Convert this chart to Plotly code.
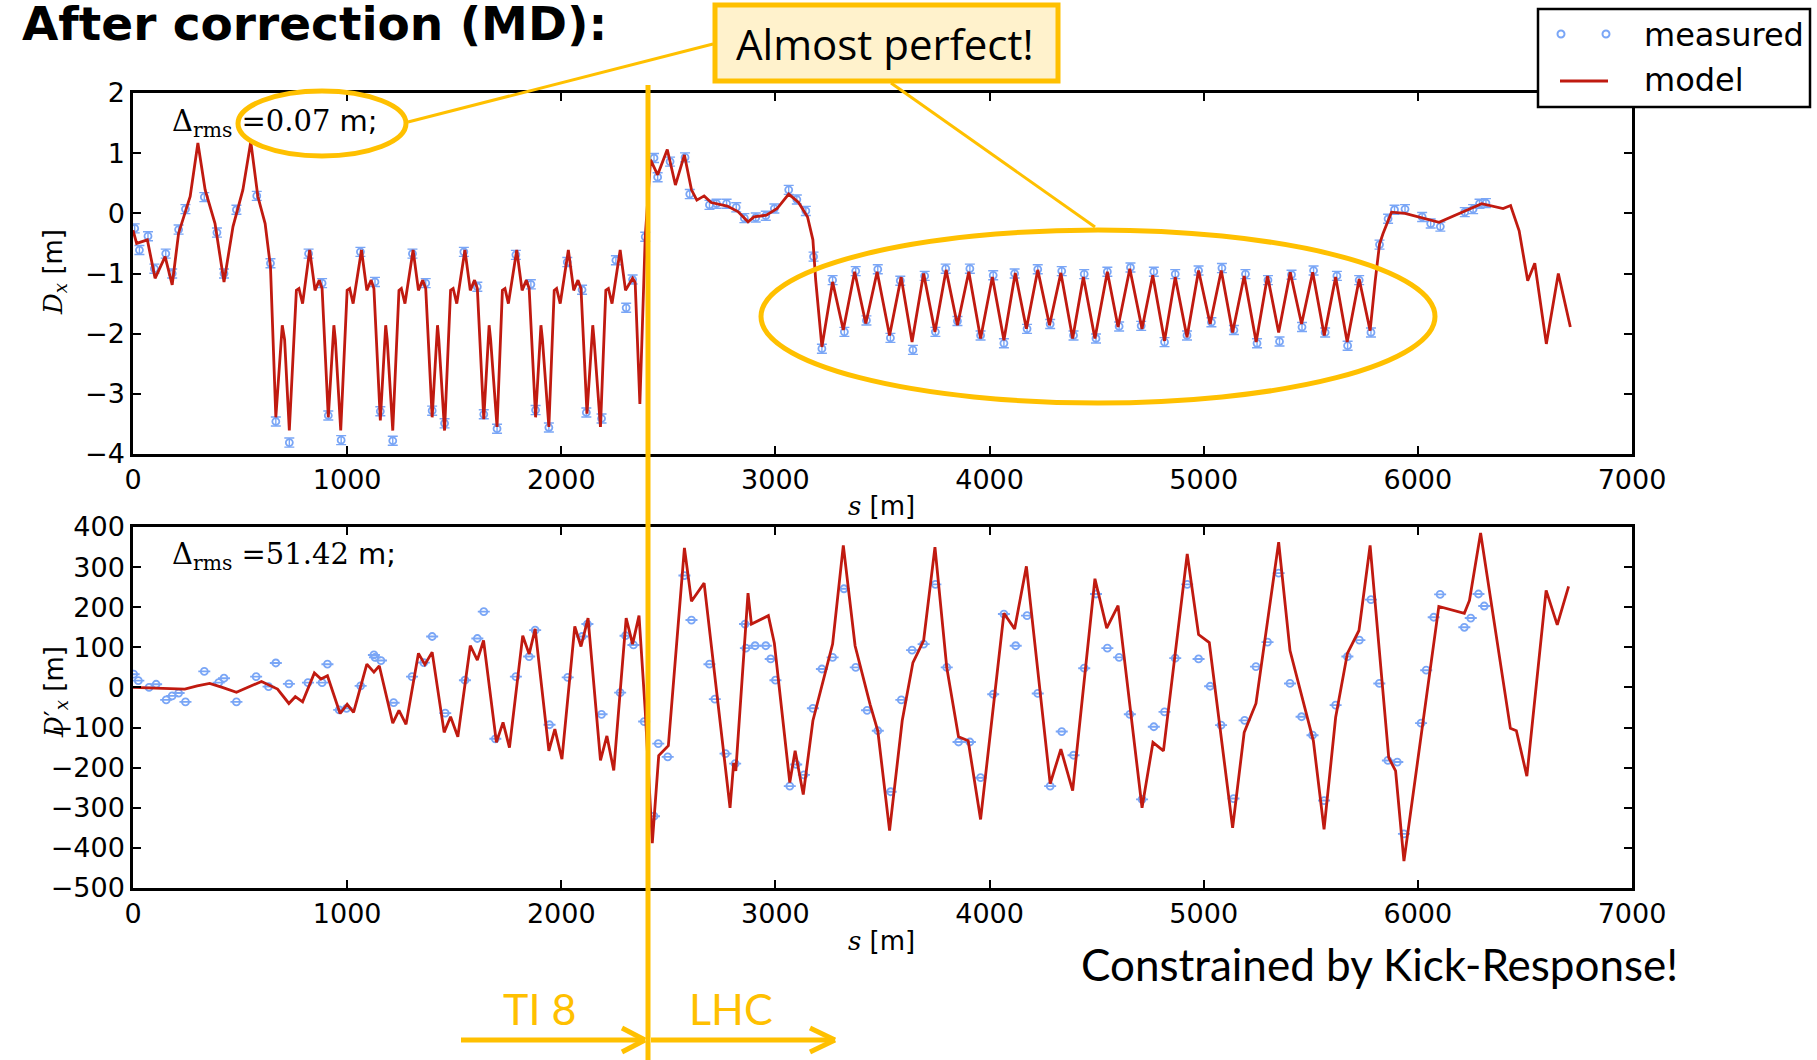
import plotly.graph_objects as go

# ---------------- data ----------------
top_model_s = [0, 17, 67, 103, 150, 183, 213, 267, 303, 337, 383, 425, 467, 513, 550, 583, 617, 642,
               667, 697, 708, 730, 763, 775, 792, 825,
               850, 870, 883, 912, 938, 945, 970, 1000, 1012, 1028, 1067,
               1092, 1112, 1125, 1155, 1180, 1187, 1213, 1242, 1253, 1270, 1308,
               1333, 1353, 1367, 1397, 1422, 1428, 1455, 1483, 1495, 1512, 1550,
               1575, 1595, 1608, 1638, 1663, 1670, 1700, 1725, 1737, 1753, 1792,
               1817, 1837, 1850, 1880, 1905, 1912, 1942, 1967, 1978, 1995, 2033,
               2058, 2078, 2092, 2120, 2147, 2153, 2183, 2208, 2220, 2237, 2275,
               2300, 2333, 2345, 2367, 2392,
               2417, 2450, 2495, 2533, 2575, 2608, 2633, 2667, 2700, 2775, 2825, 2872, 2900, 2958,
               3008, 3062, 3108, 3150, 3175, 3188, 3217, 3267, 3317, 3370, 3422, 3475, 3533, 3587,
               3638, 3692, 3745, 3797, 3850, 3903, 3958, 4013, 4067, 4120, 4172, 4225, 4280, 4333,
               4388, 4438, 4492, 4550, 4600, 4655, 4712, 4762, 4817, 4867, 4922, 4976, 5030, 5082,
               5135, 5189, 5245, 5298, 5350, 5404, 5457, 5509, 5563, 5616, 5670, 5726, 5777, 5801,
               5821, 5837, 5877, 5940, 6099, 6298, 6398, 6433, 6473, 6513, 6546, 6600, 6656, 6712]
top_model_d = [-0.28, -0.5, -0.44, -1.08, -0.72, -1.19, -0.33, 0.28, 1.17, 0.39, -0.17, -1.14, -0.22, 0.39, 1.19, 0.28, -0.17, -0.89,
               -3.39, -1.86, -2.1, -3.61, -1.28, -1.25, -1.5, -0.61,
               -1.28, -1.11, -1.25, -3.39, -1.86, -2.1, -3.61, -1.28, -1.25, -1.5, -0.61,
               -1.28, -1.11, -1.25, -3.44, -1.86, -2.1, -3.61, -1.28, -1.25, -1.5, -0.61,
               -1.28, -1.11, -1.25, -3.39, -1.86, -2.1, -3.61, -1.28, -1.25, -1.5, -0.61,
               -1.28, -1.11, -1.25, -3.42, -1.86, -2.1, -3.55, -1.28, -1.25, -1.5, -0.61,
               -1.28, -1.11, -1.25, -3.39, -1.86, -2.1, -3.55, -1.28, -1.25, -1.5, -0.61,
               -1.28, -1.11, -1.25, -3.33, -1.86, -2.1, -3.55, -1.28, -1.25, -1.5, -0.61,
               -1.28, -1.08, -1.15, -3.17, -0.39,
               0.89, 0.64, 1.06, 0.47, 0.97, 0.39, 0.22, 0.29, 0.18, 0.12, 0.03, -0.14, -0.06, -0.03,
               0.08, 0.32, 0.18, -0.06, -0.44, -1.11, -2.22, -1.14, -1.94, -0.97, -1.83, -0.97, -2.03, -1.06,
               -2.14, -1.0, -1.97, -0.94, -1.86, -0.97, -2.08, -1.06, -2.11, -0.99, -1.92, -0.94, -1.86, -0.99,
               -2.08, -1.06, -2.08, -0.97, -1.89, -0.92, -1.92, -1.03, -2.12, -1.06, -2.06, -0.95, -1.84, -0.95,
               -1.98, -1.04, -2.14, -1.04, -1.98, -0.98, -1.84, -0.98, -2.03, -1.06, -2.14, -1.09, -1.95, -1.12,
               -0.51, -0.34, 0.02, 0.0, -0.15, 0.16, 0.08, 0.13, -0.29, -1.12, -0.83, -2.17, -1.0, -1.89]

top_meas_s = [8, 30, 70, 100, 153, 183, 213, 245, 333, 392, 425, 483, 578, 642, 667, 730, 820, 883, 912, 972,
              1062, 1130, 1155, 1213, 1305, 1367, 1397, 1455, 1545, 1608, 1638, 1700, 1788, 1858, 1880, 1942,
              2028, 2097, 2117, 2188, 2255, 2303, 2333, 2392,
              2433, 2450, 2508, 2578, 2600, 2692, 2725, 2772, 2817, 2855, 2908, 2955, 2995, 3062, 3100, 3142,
              3178, 3217, 3267, 3322, 3375, 3425, 3478, 3537, 3583, 3642, 3697, 3747, 3795, 3850, 3908, 3958,
              4017, 4067, 4117, 4175, 4225, 4283, 4337, 4392, 4442, 4497, 4550, 4605, 4658, 4708, 4767, 4817,
              4867, 4922, 4976, 5036, 5085, 5141, 5195, 5249, 5300, 5354, 5410, 5459, 5513, 5567, 5622, 5672,
              5726, 5781, 5821, 5861, 5891, 5940, 6020, 6060, 6105, 6219, 6258, 6288, 6318]
top_meas_d = [-0.25, -0.61, -0.38, -0.92, -0.67, -1.0, -0.27, 0.07, 0.27, -0.32, -1.0, 0.06, 0.29, -0.83, -3.46, -3.81, -0.67, -1.16, -3.36, -3.77,
              -0.64, -1.14, -3.29, -3.78, -0.67, -1.16, -3.28, -3.49, -0.64, -1.22, -3.34, -3.58, -0.69, -1.18, -3.27, -3.56,
              -0.81, -1.27, -3.31, -3.41, -0.78, -1.57, -1.1, -0.39,
              0.92, 0.6, 0.86, 0.93, 0.32, 0.14, 0.16, 0.16, 0.1, -0.08, -0.07, -0.04, 0.08, 0.39, 0.23, 0.04,
              -0.72, -2.25, -1.11, -1.97, -0.96, -1.78, -0.93, -2.07, -1.12, -2.27, -1.04, -1.97, -0.92, -1.79, -0.92, -2.03,
              -1.03, -2.16, -1.0, -1.92, -0.93, -1.84, -0.96, -2.03, -1.01, -2.08, -0.97, -1.88, -0.9, -1.87, -0.97, -2.14,
              -1.01, -2.03, -0.95, -1.81, -0.91, -1.94, -1.01, -2.16, -1.11, -2.13, -1.02, -1.89, -0.95, -1.98, -1.04, -2.2,
              -1.11, -1.98, -0.52, -0.09, 0.06, 0.07, -0.06, -0.17, -0.22, 0.02, 0.07, 0.16, 0.17]

bot_model_s = [0, 242, 300, 358, 417, 483, 600, 675, 728, 758, 792, 847, 878, 908, 967, 1000, 1030, 1092, 1125, 1150,
               1213, 1242, 1275, 1333, 1363, 1397, 1453, 1483, 1517, 1575, 1608, 1637, 1697, 1728, 1758, 1820, 1850,
               1878, 1942, 1970, 2003, 2063, 2092, 2125, 2183, 2213, 2245, 2303, 2333, 2363, 2392, 2425, 2455, 2500,
               2575, 2608, 2667, 2788, 2805, 2815, 2872, 2888, 2967, 2995, 3067, 3092, 3130, 3175, 3267, 3317, 3372,
               3442, 3478, 3533, 3592, 3642, 3692, 3745, 3800, 3855, 3900, 3958, 4067, 4117, 4172, 4283, 4333, 4388,
               4492, 4547, 4600, 4712, 4763, 4812, 4923, 4976, 5026, 5135, 5189, 5244, 5350, 5403, 5512, 5562, 5616,
               5671, 5725, 5777, 5864, 5896, 5935, 6098, 6217, 6241, 6293, 6432, 6460, 6509, 6599, 6651, 6704]
bot_model_dp = [0, -4, 4, 10, 0, -12, 15, -4, -40, -23, -36, 36, 21, 29, -65, -42, -62, 58, 38, 54,
                -89, -57, -92, 85, 57, 88, -112, -73, -123, 104, 68, 117, -137, -87, -150, 129, 83,
                146, -158, -104, -179, 152, 102, 173, -182, -121, -207, 173, 108, 179, -58, -388, -170, -145,
                348, 215, 260, -300, -188, -208, 235, 158, 179, 110, -237, -158, -267, -83, 108, 354, 104,
                -42, -108, -357, -83, 62, 117, 350, 50, -123, -133, -329, 185, 146, 302, -240, -154, -257,
                271, 148, 204, -300, -137, -158, 333, 132, 112, -350, -112, -40, 362, 92, -133, -354, -75,
                85, 142, 354, -175, -208, -433, 202, 185, 217, 385, -102, -108, -221, 242, 156, 252]

bot_meas_s = [3, 25, 75, 108, 155, 183, 213, 245, 333, 400, 425, 483, 575, 633, 667, 728, 817, 883, 908, 963, 997,
              1063, 1125, 1130, 1158, 1217, 1303, 1358, 1397, 1458, 1550, 1608, 1638, 1692, 1788, 1850, 1878, 1945,
              2030, 2097, 2122, 2188, 2275, 2300, 2337, 2387, 2433, 2453, 2497, 2575, 2608, 2692, 2717, 2767, 2812,
              2858, 2862, 2905, 2955, 2978, 3000, 3067, 3097, 3133, 3175, 3217, 3267, 3320, 3375, 3428, 3478, 3538,
              3588, 3638, 3692, 3747, 3800, 3855, 3908, 3958, 4017, 4067, 4122, 4175, 4225, 4283, 4337, 4392, 4442,
              4497, 4550, 4605, 4655, 4712, 4767, 4817, 4867, 4923, 4976, 5030, 5081, 5139, 5191, 5244, 5298, 5350,
              5403, 5457, 5508, 5562, 5616, 5671, 5727, 5781, 5820, 5860, 5904, 5935, 6015, 6039, 6074, 6104, 6217,
              6247, 6283, 6310]
bot_meas_dp = [33, 17, 0, 8, -31, -21, -14, -36, 40, 12, 23, -36, 27, 2, 61, 9, 12, 12, 58, -56, -52,
               4, 81, 75, 67, -38, 27, 62, 127, -64, 18, 122, 189, -128, 27, 77, 143, -93,
               25, 127, 158, -67, -13, 129, 106, -85, -321, -140, -173, 279, 168, 58, -29, -165, -190,
               158, 98, 104, 104, 71, 18, -246, -192, -218, -52, 46, 75, 246, 50, -57, -108, -260,
               -31, 93, 108, 257, 50, -136, -136, -225, -17, 183, 104, 179, -15, -246, -110, -169, 48,
               233, 98, 75, -67, -279, -98, -61, 73, 257, 71, 3, -94, -277, -82, 52, 113, 285,
               10, -73, -119, -282, -44, 77, 118, 219, 10, -182, -186, -365, -89, 43, 175, 232, 150,
               173, 233, 203]

x_ticks = [0, 1000, 2000, 3000, 4000, 5000, 6000, 7000]
top_y_ticks = [-4, -3, -2, -1, 0, 1, 2]
bot_y_ticks = [-500, -400, -300, -200, -100, 0, 100, 200, 300, 400]

# ---------------- styling ----------------
W, H = 1817, 1060
def X(p):
    return p / W
def Y(p):
    return 1 - p / H

RED = '#C01A10'
BLUE = '#7AA6F6'
ORANGE = '#FFC000'
TICKFONT = dict(family='DejaVu Sans', size=27, color='black')

fig = go.Figure()
fig.add_trace(go.Scatter(x=top_meas_s, y=top_meas_d, mode='markers', name='measured',
                         marker=dict(symbol='circle-open', size=7, color=BLUE, line=dict(width=1.8, color=BLUE)),
                         error_y=dict(type='constant', value=0.075, width=5, thickness=1.4, color=BLUE),
                         xaxis='x', yaxis='y', showlegend=False))
fig.add_trace(go.Scatter(x=top_model_s, y=top_model_d, mode='lines', name='model',
                         line=dict(color=RED, width=2.8), xaxis='x', yaxis='y', showlegend=False))
fig.add_trace(go.Scatter(x=bot_meas_s, y=bot_meas_dp, mode='markers', name='measured',
                         marker=dict(symbol='circle-open', size=7, color=BLUE, line=dict(width=1.8, color=BLUE)),
                         error_y=dict(type='constant', value=0.5, width=6, thickness=1.5, color=BLUE),
                         xaxis='x2', yaxis='y2', showlegend=False))
fig.add_trace(go.Scatter(x=bot_model_s, y=bot_model_dp, mode='lines', name='model',
                         line=dict(color=RED, width=2.8), xaxis='x2', yaxis='y2', showlegend=False))

axis_common = dict(showline=True, linewidth=2.5, linecolor='black', mirror='allticks',
                   ticks='inside', ticklen=8, tickwidth=1.5, tickcolor='black',
                   showgrid=False, zeroline=False, tickfont=TICKFONT, automargin=False)

fig.update_layout(
    width=W, height=H, margin=dict(l=0, r=0, t=0, b=0, pad=0), autosize=False,
    paper_bgcolor='white', plot_bgcolor='white', showlegend=False,
    xaxis=dict(domain=[X(133), X(1632)], anchor='y', range=[0, 7000], tickvals=x_ticks, **axis_common),
    yaxis=dict(domain=[Y(454), Y(93)], anchor='x', range=[-4, 2], tickvals=top_y_ticks, **axis_common),
    xaxis2=dict(domain=[X(133), X(1632)], anchor='y2', range=[0, 7000], tickvals=x_ticks, **axis_common),
    yaxis2=dict(domain=[Y(888), Y(527)], anchor='x2', range=[-500, 400], tickvals=bot_y_ticks, **axis_common),
)

shapes = []
ann = []

def text(x, y, t, size, color='black', family='Lato', xanchor='center', yanchor='middle', angle=0):
    ann.append(dict(x=X(x), y=Y(y), xref='paper', yref='paper', text=t, showarrow=False,
                    font=dict(family=family, size=size, color=color), xanchor=xanchor,
                    yanchor=yanchor, textangle=angle))

def line(x0, y0, x1, y1, color=ORANGE, width=5):
    shapes.append(dict(type='line', xref='paper', yref='paper', x0=X(x0), y0=Y(y0), x1=X(x1), y1=Y(y1),
                       line=dict(color=color, width=width), layer='above'))

SERIF = 'font-family:DejaVu Serif;font-size:%dpx'

# axis titles
text(881, 506, '<span style="%s"><i>s</i></span> [m]' % (SERIF % 26), 26, family='DejaVu Sans')
text(881, 941, '<span style="%s"><i>s</i></span> [m]' % (SERIF % 26), 26, family='DejaVu Sans')
text(55, 272, '<span style="%s"><i>D</i><sub><i>x</i></sub></span> [m]' % (SERIF % 26), 26,
     family='DejaVu Sans', angle=-90)
text(55, 692, '<span style="%s"><i>D</i>′<sub><i>x</i></sub></span> [m]' % (SERIF % 26), 26,
     family='DejaVu Sans', angle=-90)

# rms annotations
text(170, 123, '<span style="%s">Δ<sub>rms</sub> =0.07</span> m;' % (SERIF % 29), 29,
     family='DejaVu Sans', xanchor='left')
text(170, 556, '<span style="%s">Δ<sub>rms</sub> =51.42</span> m;' % (SERIF % 29), 29,
     family='DejaVu Sans', xanchor='left')

# title
text(20, 24, '<b>After correction (MD):</b>', 47, family='DejaVu Sans', xanchor='left')

# vertical TI8/LHC line
line(648, 85, 648, 1060, width=5)

# ellipses
shapes.append(dict(type='circle', xref='paper', yref='paper', x0=X(238), x1=X(406), y0=Y(91), y1=Y(156),
                   line=dict(color=ORANGE, width=5), layer='above'))
shapes.append(dict(type='circle', xref='paper', yref='paper', x0=X(761), x1=X(1435), y0=Y(230), y1=Y(403),
                   line=dict(color=ORANGE, width=5), layer='above'))
# connectors
line(713, 44, 408, 122, width=3)
line(891, 83, 1095, 227, width=3)

# "Almost perfect!" box
shapes.append(dict(type='rect', xref='paper', yref='paper', x0=X(715), x1=X(1058), y0=Y(5), y1=Y(81),
                   fillcolor='#FFF2CC', line=dict(color=ORANGE, width=5), layer='above'))
text(885, 43, 'Almost perfect!', 42, family='Open Sans')

# arrows
line(461, 1040, 645, 1040, width=5)
line(622, 1028, 645, 1040, width=5)
line(622, 1052, 645, 1040, width=5)
line(651, 1040, 835, 1040, width=5)
line(810, 1028, 835, 1040, width=5)
line(810, 1052, 835, 1040, width=5)
text(539, 1008, 'TI 8', 43, color=ORANGE)
text(731, 1008, 'LHC', 43, color=ORANGE)

text(1379, 964, 'Constrained by Kick-Response!', 44)

# legend (drawn manually)
shapes.append(dict(type='rect', xref='paper', yref='paper', x0=X(1538), x1=X(1810), y0=Y(9), y1=Y(107),
                   fillcolor='white', line=dict(color='black', width=2.5), layer='above'))
for cx in (1561, 1606):
    shapes.append(dict(type='circle', xref='paper', yref='paper', x0=X(cx - 3.5), x1=X(cx + 3.5),
                       y0=Y(34 - 3.5), y1=Y(34 + 3.5), line=dict(color=BLUE, width=2), layer='above'))
line(1560, 81, 1608, 81, color=RED, width=3)
text(1642, 35, 'measured', 32, family='DejaVu Sans', xanchor='left')
text(1642, 80, 'model', 32, family='DejaVu Sans', xanchor='left')

fig.update_layout(shapes=shapes, annotations=ann)
fig.write_html('out.html', config={'displayModeBar': False, 'responsive': False},
               post_script="document.body.style.margin='0';document.body.style.overflow='hidden';")
